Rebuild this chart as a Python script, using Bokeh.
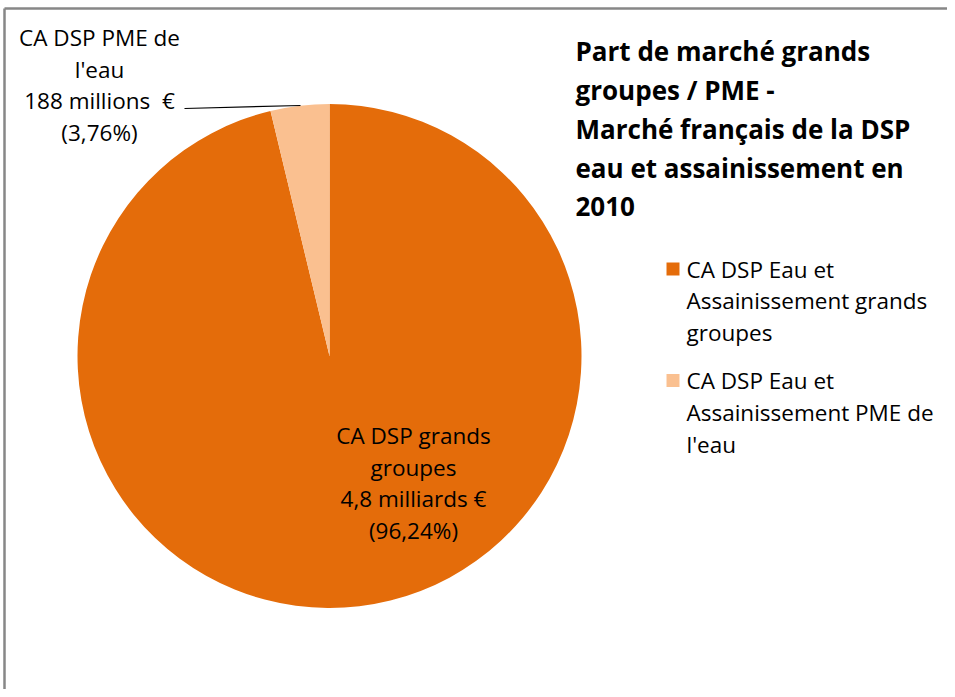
import math
from bokeh.plotting import figure
from bokeh.models import Range1d, ColumnDataSource
from bokeh.core.properties import value
from bokeh.embed import file_html
from bokeh.resources import INLINE

# ---- data ----
categories = ["CA DSP Eau et Assainissement grands groupes",
              "CA DSP Eau et Assainissement PME de l'eau"]
shares = [96.24, 3.76]
colors = ["#E46C0A", "#FAC090"]
legend_lines = [["CA DSP Eau et", "Assainissement grands", "groupes"],
                ["CA DSP Eau et", "Assainissement PME de", "l'eau"]]
label_lines = [["CA DSP grands", "groupes", "4,8 milliards €", "(96,24%)"],
               ["CA DSP PME de", "l'eau", "188 millions\u00a0 €", "(3,76%)"]]
title_lines = ["Part de marché grands", "groupes / PME -",
               "Marché français de la DSP", "eau et assainissement en", "2010"]

W, H = 947, 689
def fy(y):
    return H - y

p = figure(width=W, height=H, output_backend="svg", toolbar_location=None,
           x_range=Range1d(0, W), y_range=Range1d(0, H),
           min_border=0, outline_line_color=None)
p.axis.visible = False
p.grid.visible = False
p.background_fill_color = "white"

# frame
p.line([4, W], [fy(8), fy(8)], line_color="#878787", line_width=2.5)
p.line([4, 4], [fy(8), fy(H)], line_color="#878787", line_width=2.5)

# pie
cx, cy, r = 329, fy(355.5), 252
total = sum(shares)
starts, ends = [], []
a = math.pi / 2
for s in shares:
    starts.append(a)
    a -= 2 * math.pi * s / total
    ends.append(a)
src = ColumnDataSource(dict(start=starts, end=ends, color=colors, cat=categories))
p.wedge(x=cx, y=cy, radius=r, start_angle="start", end_angle="end",
        direction="clock", fill_color="color", line_color=None, source=src)

font = value("Open Sans")

# leader line for small slice
p.line([184, 300], [fy(108), fy(105)], line_color="#000000", line_width=1.2)

# data labels
lab_pos = [(413, 435), (99, 37)]
for lines, (lx, ly) in zip(label_lines, lab_pos):
    p.text(x=[lx] * len(lines), y=[fy(ly + 31.5 * i) for i in range(len(lines))],
           text=lines, text_font=font, text_font_size="22.5px",
           text_align="center", text_baseline="middle", text_color="#000000")

# title
p.text(x=[575] * len(title_lines), y=[fy(50 + 39 * i) for i in range(len(title_lines))],
       text=title_lines, text_font=font, text_font_size="26px", text_font_style="bold",
       text_align="left", text_baseline="middle", text_color="#000000")

# legend
leg_y = [268.5, 380]
for lines, ly, col in zip(legend_lines, leg_y, colors):
    p.rect(x=[672.5], y=[fy(ly)], width=13, height=13, fill_color=col, line_color=None)
    p.text(x=[686] * len(lines), y=[fy(ly + 31.8 * i) for i in range(len(lines))],
           text=lines, text_font=font, text_font_size="22.5px",
           text_align="left", text_baseline="middle", text_color="#000000")

open("out.html", "w").write(file_html(p, INLINE))
